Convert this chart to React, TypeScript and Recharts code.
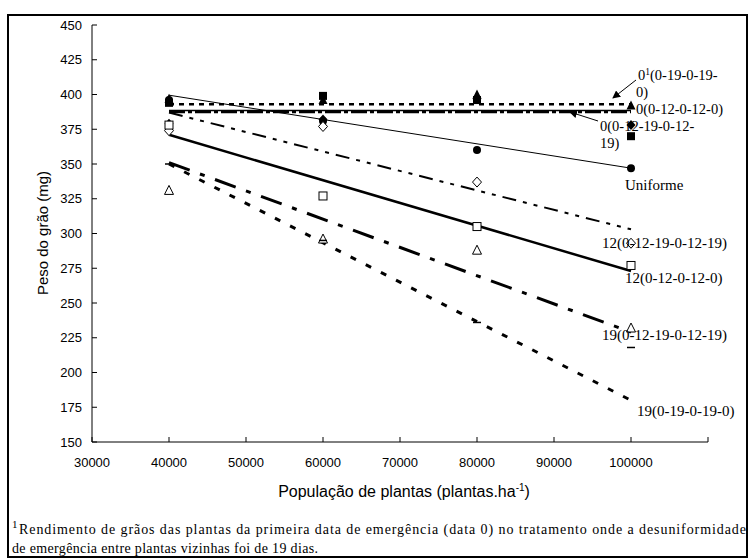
import React from 'react';
import { ScatterChart, Scatter, XAxis, YAxis } from 'recharts';

// populações avaliadas (plantas/ha)
const populacoes = [40000, 60000, 80000, 100000];
const trendX = [40000, 100000];
const xTicks = [30000, 40000, 50000, 60000, 70000, 80000, 90000, 100000, 110000];
const yTicks = [150, 175, 200, 225, 250, 275, 300, 325, 350, 375, 400, 425, 450];

// peso do grão (mg) observado
const peso0_19 = [397, 396, 400, 392];
const peso0_12 = [394, 399, 396, 370];
const peso0_12_19 = [379, 382, 397, 378];
const pesoUniforme = [396, 381, 360, 347];
const peso12_12_19 = [374, 377, 337, 293];
const peso12_12 = [378, 327, 305, 277];
const peso19_12_19 = [331, 296, 288, 232];
const peso19_19 = [350, 295, 236, 218];

// linhas de tendência (valor em 40000 e em 100000)
const trend0_19 = [393, 393];
const trend0_12 = [388.5, 388.5];
const trend0_12_19 = [387.5, 387.5];
const trendUniforme = [399.5, 347];
const trend12_12_19 = [387, 303];
const trend12_12 = [371, 273];
const trend19_12_19 = [351, 229];
const trend19_19 = [350, 180];

const toPts = (xs: number[], ys: number[]) => xs.map((x, i) => ({ x, y: ys[i] }));

type Kind = 'tri' | 'square' | 'diamond' | 'circle' | 'odiamond' | 'osquare' | 'otri' | 'dash';

const series: { name: string; pts: number[]; trend: number[]; kind: Kind; dash?: string; w: number }[] = [
  { name: '0(0-19-0-19-0)', pts: peso0_19, trend: trend0_19, kind: 'tri', dash: '5 5', w: 2.5 },
  { name: '0(0-12-0-12-0)', pts: peso0_12, trend: trend0_12, kind: 'square', w: 1.5 },
  { name: '0(0-12-19-0-12-19)', pts: peso0_12_19, trend: trend0_12_19, kind: 'diamond', dash: '16 3 4 3', w: 2.5 },
  { name: 'Uniforme', pts: pesoUniforme, trend: trendUniforme, kind: 'circle', w: 1 },
  { name: '12(0-12-19-0-12-19)', pts: peso12_12_19, trend: trend12_12_19, kind: 'odiamond', dash: '14 7 4 7 4 7', w: 2 },
  { name: '12(0-12-0-12-0)', pts: peso12_12, trend: trend12_12, kind: 'osquare', w: 2.5 },
  { name: '19(0-12-19-0-12-19)', pts: peso19_12_19, trend: trend19_12_19, kind: 'otri', dash: '22 11 5 11', w: 3 },
  { name: '19(0-19-0-19-0)', pts: peso19_19, trend: trend19_19, kind: 'dash', dash: '6 11', w: 3 },
];

const Marker = ({ cx, cy, kind }: { cx?: number; cy?: number; kind: Kind }) => {
  if (cx == null || cy == null) return <g />;
  switch (kind) {
    case 'tri':
      return <polygon points={`${cx},${cy - 5} ${cx + 4.5},${cy + 4} ${cx - 4.5},${cy + 4}`} fill="#000" />;
    case 'square':
      return <rect x={cx - 4} y={cy - 4} width={8} height={8} fill="#000" />;
    case 'diamond':
      return <polygon points={`${cx},${cy - 5} ${cx + 4.5},${cy} ${cx},${cy + 5} ${cx - 4.5},${cy}`} fill="#000" />;
    case 'circle':
      return <circle cx={cx} cy={cy} r={4} fill="#000" />;
    case 'odiamond':
      return <polygon points={`${cx},${cy - 5} ${cx + 4.5},${cy} ${cx},${cy + 5} ${cx - 4.5},${cy}`} fill="#fff" stroke="#000" strokeWidth={1} />;
    case 'osquare':
      return <rect x={cx - 4} y={cy - 4} width={8} height={8} fill="#fff" stroke="#000" strokeWidth={1} />;
    case 'otri':
      return <polygon points={`${cx},${cy - 5} ${cx + 4.5},${cy + 4} ${cx - 4.5},${cy + 4}`} fill="#fff" stroke="#000" strokeWidth={1} />;
    default:
      return <line x1={cx - 4} x2={cx + 4} y1={cy} y2={cy} stroke="#000" strokeWidth={1.5} />;
  }
};

const sans = '"Liberation Sans", Arial, sans-serif';
const serif = '"Liberation Serif", "Times New Roman", serif';

const YTick = (props: any) => {
  const { x, y, payload } = props;
  return (
    <g>
      <line x1={x} x2={x + 5} y1={y} y2={y} stroke="#000" />
      <text x={x - 10} y={y + 4.5} textAnchor="end" fontSize={13} fontFamily={sans} fill="#000">
        {payload.value}
      </text>
    </g>
  );
};

const XTick = (props: any) => {
  const { x, y, payload } = props;
  return (
    <g>
      <line x1={x} x2={x} y1={y} y2={y - 5} stroke="#000" />
      {payload.value <= 100000 && (
        <text x={x} y={y + 25} textAnchor="middle" fontSize={13} fontFamily={sans} fill="#000">
          {payload.value}
        </text>
      )}
    </g>
  );
};

// rótulos das curvas à direita
const labels = [
  { t: '0)', x: 636, y: 97, s: 14.5 },
  { t: '0(0-12-0-12-0)', x: 636, y: 114, s: 14.5 },
  { t: '0(0-12-19-0-12-', x: 600, y: 131, s: 14.5 },
  { t: '19)', x: 600, y: 148, s: 14.5 },
  { t: 'Uniforme', x: 625, y: 190, s: 15 },
  { t: '12(0-12-19-0-12-19)', x: 602, y: 248, s: 15 },
  { t: '12(0-12-0-12-0)', x: 625, y: 283, s: 15 },
  { t: '19(0-12-19-0-12-19)', x: 602, y: 340, s: 15 },
  { t: '19(0-19-0-19-0)', x: 637, y: 416, s: 15 },
];

export default function App() {
  return (
    <div style={{ position: 'absolute', left: 0, top: 0, width: 754, height: 559, background: '#fff' }}>
      <div
        style={{
          position: 'absolute',
          left: 7,
          top: 14,
          width: 741,
          height: 544,
          border: '2px solid #000',
          boxSizing: 'border-box',
        }}
      />
      <div style={{ position: 'absolute', left: 0, top: 0 }}>
        <ScatterChart width={754} height={559} margin={{ top: 25, right: 46, bottom: 77, left: 32 }}>
          <XAxis
            type="number"
            dataKey="x"
            domain={[30000, 110000]}
            ticks={xTicks}
            interval={0}
            tickSize={0}
            tickMargin={0}
            tick={<XTick />}
            height={40}
            stroke="#000"
          />
          <YAxis
            type="number"
            dataKey="y"
            domain={[150, 450]}
            ticks={yTicks}
            interval={0}
            tickSize={0}
            tickMargin={0}
            tick={<YTick />}
            width={60}
            stroke="#000"
          />
          {series.map((s) => (
            <Scatter
              key={'t' + s.name}
              data={toPts(trendX, s.trend)}
              line={{ stroke: '#000', strokeWidth: s.w, strokeDasharray: s.dash }}
              shape={() => <g />}
              isAnimationActive={false}
            />
          ))}
          {series.map((s) => (
            <Scatter
              key={'p' + s.name}
              data={toPts(populacoes, s.pts)}
              shape={(p: any) => <Marker cx={p.cx} cy={p.cy} kind={s.kind} />}
              isAnimationActive={false}
            />
          ))}
        </ScatterChart>
      </div>
      <svg width={754} height={559} style={{ position: 'absolute', left: 0, top: 0, pointerEvents: 'none' }}>
        <defs>
          <marker id="seta" markerWidth="8" markerHeight="8" refX="7" refY="4" orient="auto">
            <path d="M0,0 L8,4 L0,8 z" fill="#000" />
          </marker>
        </defs>
        <line x1={636} y1={80} x2={613} y2={98} stroke="#000" strokeWidth={1} markerEnd="url(#seta)" />
        <line x1={598} y1={121} x2={570} y2={112} stroke="#000" strokeWidth={1} markerEnd="url(#seta)" />
        <text x={638} y={80} fontSize={14.5} fontFamily={serif} fill="#000">
          0<tspan fontSize={9.5} dy={-5}>1</tspan>
          <tspan dy={5}>(0-19-0-19-</tspan>
        </text>
        {labels.map((l) => (
          <text key={l.t + l.y} x={l.x} y={l.y} fontSize={l.s} fontFamily={serif} fill="#000">
            {l.t}
          </text>
        ))}
        <text
          transform="translate(48,233) rotate(-90)"
          textAnchor="middle"
          fontSize={15}
          fontFamily={sans}
          fill="#000"
        >
          Peso do grão (mg)
        </text>
        <text x={404} y={497} textAnchor="middle" fontSize={16} fontFamily={sans} fill="#000">
          População de plantas (plantas.ha
          <tspan fontSize={10} dy={-6}>-1</tspan>
          <tspan dy={6}>)</tspan>
        </text>
        <text x={12} y={534} fontSize={14} fontFamily={serif} fill="#000">
          <tspan fontSize={11} dy={-6}>1</tspan>
          <tspan x={19} dy={6} textLength={727} lengthAdjust="spacing">
            Rendimento de grãos das plantas da primeira data de emergência (data 0) no tratamento onde a desuniformidade
          </tspan>
        </text>
        <text x={12} y={553} fontSize={14} fontFamily={serif} fill="#000" textLength={306} lengthAdjust="spacing">
          de emergência entre plantas vizinhas foi de 19 dias.
        </text>
      </svg>
    </div>
  );
}
